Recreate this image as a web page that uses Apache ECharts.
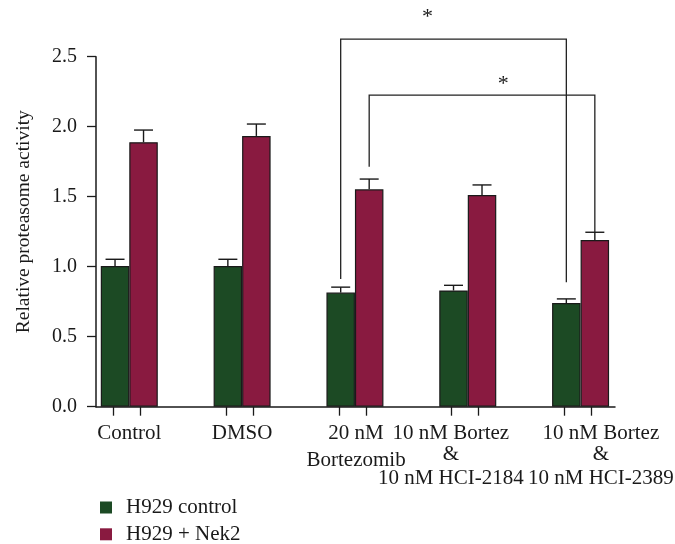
<!DOCTYPE html>
<html>
<head>
<meta charset="utf-8">
<script src="https://cdn.jsdelivr.net/npm/echarts@6/dist/echarts.min.js"></script>
<style>
  html, body { margin: 0; padding: 0; background: #ffffff; }
  #chart { width: 675px; height: 544px; }
</style>
</head>
<body>
<div id="chart"></div>
<script>
// ---- data ----
const categories = [
  'Control',
  'DMSO',
  '20 nM\nBortezomib',
  '10 nM Bortez\n&\n10 nM HCI-2184',
  '10 nM Bortez\n&\n10 nM HCI-2389'
];
const seriesNames = ['H929 control', 'H929 + Nek2'];
const controlMeans  = [1.005, 1.005, 0.815, 0.830, 0.740];
const controlErrors = [0.048, 0.048, 0.039, 0.037, 0.030];
const nek2Means     = [1.889, 1.934, 1.553, 1.512, 1.191];
const nek2Errors    = [0.087, 0.085, 0.073, 0.072, 0.055];
const yTickValues   = [0, 0.5, 1.0, 1.5, 2.0, 2.5];

// significance brackets: [group, series] of the compared bars, line heights, star
const bracketFrom    = [[2, 0], [2, 1]];
const bracketTo      = [[4, 0], [4, 1]];
const bracketTop     = [2.626, 2.226];
const bracketFromEnd = [0.912, 1.714];
const bracketToEnd   = [0.889, 1.246];
const bracketStarY   = [2.81, 2.33];
const bracketStarAt  = [0.38, 0.59];
const bracketMarks   = ['*', '*'];

// ---- style ----
const FONT = '"Liberation Serif", "DejaVu Serif", serif';
const INK = '#1a1a1a';
const GREEN = '#1c4a24';
const RED = '#891a40';
const BAR_W = 28.5;
const CAP_W = 19;
const LABEL_SIZE = 21;

// where the category labels and the axis ticks sit along the x axis
const labelAnchors = [0, 1, 2.01, 2.85, 4.18];
const tickAnchors = [];
categories.forEach((c, i) => { tickAnchors.push(i - 0.142, i + 0.097); });

const labelRich = {
  l1:  { fontFamily: FONT, fontSize: LABEL_SIZE, fill: INK, lineHeight: 24, align: 'center' },
  l2:  { fontFamily: FONT, fontSize: LABEL_SIZE, fill: INK, lineHeight: 30, align: 'center' },
  amp: { fontFamily: FONT, fontSize: LABEL_SIZE, fill: INK, lineHeight: 18, align: 'center' },
  l3:  { fontFamily: FONT, fontSize: LABEL_SIZE, fill: INK, lineHeight: 30, align: 'center' }
};

function labelText(i) {
  const lines = categories[i].split('\n');
  if (lines.length === 1) return '{l1|' + lines[0] + '}';
  if (lines.length === 2) return '{l1|' + lines[0] + '}\n{l2|' + lines[1] + '}';
  return '{l1|' + lines[0] + '}\n{amp|' + lines[1] + '}\n{l3|' + lines[2] + '}';
}

// category names written under the x axis
function categoryLabels(params, api) {
  const i = params.dataIndex;
  const p = api.coord([api.value(0), 0]);
  return {
    type: 'text',
    style: {
      text: labelText(i),
      rich: labelRich,
      x: p[0],
      y: p[1] + 15,
      fill: INK,
      font: LABEL_SIZE + 'px ' + FONT,
      align: 'center',
      verticalAlign: 'top'
    }
  };
}

function errorBars(side) {
  return function (params, api) {
    const i = api.value(0), m = api.value(1), e = api.value(2);
    const base = api.coord([i, m]);
    const top = api.coord([i, m + e]);
    const x = base[0] + side * BAR_W / 2;
    const st = { stroke: INK, lineWidth: 1.4 };
    return {
      type: 'group',
      children: [
        { type: 'line', shape: { x1: x, y1: base[1], x2: x, y2: top[1] }, style: st },
        { type: 'line', shape: { x1: x - CAP_W / 2, y1: top[1], x2: x + CAP_W / 2, y2: top[1] }, style: st }
      ]
    };
  };
}

function barCenterX(api, group, series) {
  return api.coord([group, 0])[0] + (series === 0 ? -1 : 1) * BAR_W / 2;
}

function bracketRenderer(params, api) {
  const k = api.value(0);
  const x1 = barCenterX(api, bracketFrom[k][0], bracketFrom[k][1]);
  const x2 = barCenterX(api, bracketTo[k][0], bracketTo[k][1]);
  const yTop = api.coord([0, bracketTop[k]])[1];
  const y1 = api.coord([0, bracketFromEnd[k]])[1];
  const y2 = api.coord([0, bracketToEnd[k]])[1];
  const yStar = api.coord([0, bracketStarY[k]])[1];
  const xStar = x1 + (x2 - x1) * bracketStarAt[k];
  return {
    type: 'group',
    children: [
      {
        type: 'polyline',
        shape: { points: [[x1, y1], [x1, yTop], [x2, yTop], [x2, y2]] },
        style: { stroke: '#222222', lineWidth: 1.3, fill: null }
      },
      {
        type: 'text',
        style: {
          text: bracketMarks[k], x: xStar + 1, y: yStar + 4,
          fill: INK, font: '22px ' + FONT, align: 'center', verticalAlign: 'middle'
        }
      }
    ]
  };
}

const legendBase = {
  orient: 'vertical',
  left: 100,
  padding: 0,
  itemWidth: 12,
  itemHeight: 12,
  icon: 'rect',
  itemStyle: { borderWidth: 0 },
  textStyle: { fontFamily: FONT, fontSize: LABEL_SIZE, color: INK, lineHeight: 14, padding: [0, 0, 0, 9] }
};

const chart = echarts.init(document.getElementById('chart'), null, { renderer: 'canvas' });

chart.setOption({
  animation: false,
  backgroundColor: '#ffffff',
  textStyle: { fontFamily: FONT },
  grid: { left: 96, right: 60, top: 56.7, bottom: 137.3, containLabel: false },
  legend: [
    Object.assign({}, legendBase, { top: 497, data: [seriesNames[0]] }),
    Object.assign({}, legendBase, { top: 523.8, data: [seriesNames[1]] })
  ],
  xAxis: {
    type: 'value',
    min: -0.295,
    max: 4.305,
    splitLine: { show: false },
    axisLine: { show: true, onZero: false, lineStyle: { color: INK, width: 1.5 } },
    axisTick: { show: true, customValues: tickAnchors, length: 9, lineStyle: { color: INK, width: 1.3 } },
    axisLabel: { show: false }
  },
  yAxis: {
    type: 'value',
    min: 0,
    max: 2.5,
    interval: 0.5,
    name: 'Relative proteasome activity',
    nameLocation: 'middle',
    nameRotate: 90,
    nameGap: 62,
    nameTextStyle: { fontFamily: FONT, fontSize: 19.5, color: INK, padding: [0, 0, 0, 20] },
    splitLine: { show: false },
    axisLine: { show: true, onZero: false, lineStyle: { color: INK, width: 1.5 } },
    axisTick: { show: true, customValues: yTickValues, length: 9, lineStyle: { color: INK, width: 1.3 } },
    axisLabel: {
      customValues: yTickValues,
      margin: 19,
      color: INK,
      fontFamily: FONT,
      fontSize: 20,
      formatter: (v) => v.toFixed(1)
    }
  },
  series: [
    {
      name: seriesNames[0],
      type: 'bar',
      barWidth: BAR_W,
      barGap: '0%',
      data: controlMeans.map((v, i) => [i, v]),
      itemStyle: { color: GREEN, borderColor: INK, borderWidth: 1.2 }
    },
    {
      name: seriesNames[1],
      type: 'bar',
      barWidth: BAR_W,
      barGap: '0%',
      data: nek2Means.map((v, i) => [i, v]),
      itemStyle: { color: RED, borderColor: INK, borderWidth: 1.2 }
    },
    {
      type: 'custom',
      name: 'control error',
      renderItem: errorBars(-1),
      data: controlMeans.map((v, i) => [i, v, controlErrors[i]]),
      encode: { x: 0, y: 1 },
      z: 3,
      silent: true
    },
    {
      type: 'custom',
      name: 'nek2 error',
      renderItem: errorBars(1),
      data: nek2Means.map((v, i) => [i, v, nek2Errors[i]]),
      encode: { x: 0, y: 1 },
      z: 3,
      silent: true
    },
    {
      type: 'custom',
      name: 'significance',
      renderItem: bracketRenderer,
      data: bracketTop.map((t, k) => [k, t]),
      encode: { x: 0, y: 1 },
      clip: false,
      z: 4,
      silent: true
    },
    {
      type: 'custom',
      name: 'category names',
      renderItem: categoryLabels,
      data: labelAnchors.map((a) => [a, 0]),
      encode: { x: 0, y: 1 },
      clip: false,
      z: 4,
      silent: true
    }
  ]
});
</script>
</body>
</html>
